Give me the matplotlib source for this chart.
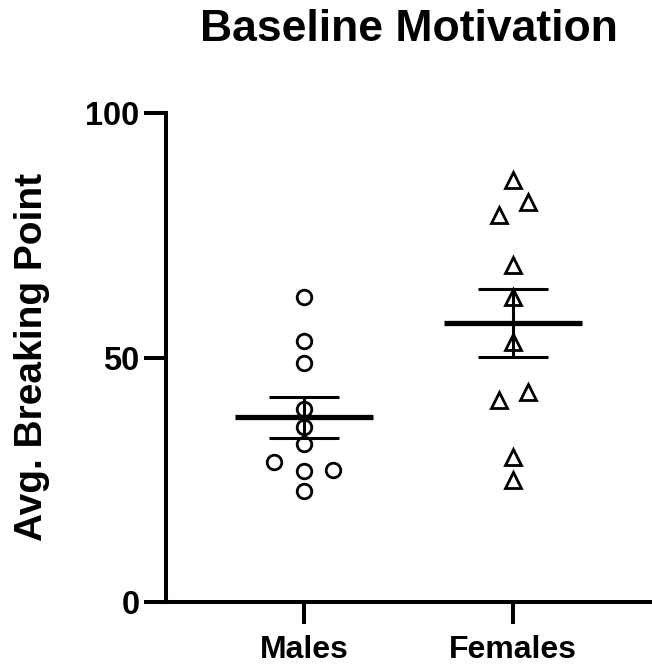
import numpy as np
import matplotlib
matplotlib.use('Agg')
import matplotlib.pyplot as plt

plt.rcParams['font.family'] = ['Liberation Sans', 'DejaVu Sans']
plt.rcParams['font.weight'] = 'bold'

groups = ['Males', 'Females']

# valores
males = [62.4, 53.4, 48.9, 39.5, 35.8, 32.3, 28.6, 26.8, 27.0, 22.7]
females = [86.3, 81.8, 79.1, 68.9, 62.4, 53.2, 42.9, 41.3, 29.7, 24.9]

# desplazamiento horizontal de los puntos (dispersion)
males_dx = [0, 0, 0, 0, 0, 0, -0.144, 0, 0.139, 0]
females_dx = [0, 0.072, -0.067, 0, 0, 0, 0.072, -0.067, 0, 0]

fig = plt.figure(figsize=(6.52, 6.66), dpi=100)
ax = fig.add_axes([0.2546, 0.0961, 0.7454, 0.7342])

data = [males, females]
offsets = [males_dx, females_dx]
markers = ['o', '^']
sizes = [10.5, 11]

for i, (vals, dx) in enumerate(zip(data, offsets)):
    vals = np.array(vals)
    xs = i + np.array(dx)
    ax.plot(xs, vals, linestyle='none', marker=markers[i], markersize=sizes[i],
            markerfacecolor='none', markeredgecolor='black', markeredgewidth=2.0,
            zorder=3, clip_on=False)
    # media y error estandar
    mean = vals.mean()
    sem = vals.std(ddof=1) / np.sqrt(len(vals))
    ax.hlines(mean, i - 0.33, i + 0.33, color='black', linewidth=3.8, zorder=4)
    ax.errorbar(i, mean, yerr=sem, fmt='none', ecolor='black', elinewidth=2.2,
                capsize=25.5, capthick=2.2, zorder=4)

ax.set_xlim(-0.66, 1.665)
ax.set_ylim(0, 100)
ax.set_yticks([0, 50, 100])
ax.set_xticks([0, 1])
ax.set_xticklabels(groups)

for s in ['top', 'right']:
    ax.spines[s].set_visible(False)
for s in ['left', 'bottom']:
    ax.spines[s].set_linewidth(2.9)

ax.tick_params(axis='both', width=2.9, length=15.5)
ax.tick_params(axis='y', pad=3.5, labelsize=23.5)
ax.tick_params(axis='x', pad=8, labelsize=23)
for lab in ax.get_xticklabels() + ax.get_yticklabels():
    lab.set_fontweight('bold')

fig.text(32 / 652, 1 - 357 / 666, 'Avg. Breaking Point', fontsize=28, fontweight='bold',
         rotation=90, ha='center', va='center')
fig.text(0.627, 1 - 41 / 666, 'Baseline Motivation', fontsize=32, fontweight='bold',
         ha='center', va='baseline')

fig.savefig('out.png', dpi=100)
